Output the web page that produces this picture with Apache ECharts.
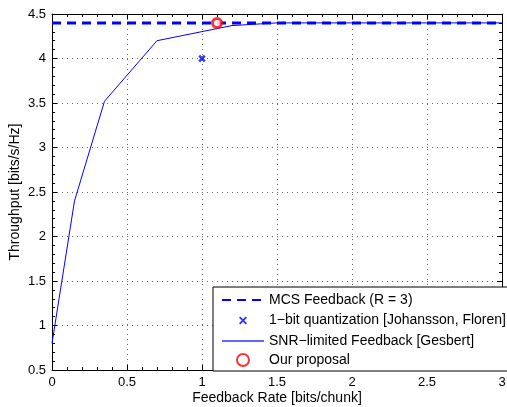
<!DOCTYPE html>
<html>
<head>
<meta charset="utf-8">
<script src="https://cdn.jsdelivr.net/npm/echarts@6/dist/echarts.min.js"></script>
<style>
  html, body { margin: 0; padding: 0; background: #fff; }
  #chart { width: 507px; height: 407px; }
</style>
</head>
<body>
<div id="chart"></div>
<script>
  // data
  const mcsLevel = [[0, 4.4], [3, 4.4]]
  const oneBitPoint = [[1, 4.0]]
  const snrRate = [0, 0.15, 0.35, 0.7, 1.2, 1.5, 2, 2.5, 3]
  const snrThroughput = [0.8, 2.4, 3.52, 4.2, 4.37, 4.4, 4.4, 4.4, 4.4]
  const proposalPoint = [[1.1, 4.4]]
  const seriesNames = [
    'MCS Feedback (R = 3)',
    '1\u2212bit quantization [Johansson, Floren]',
    'SNR\u2212limited Feedback [Gesbert]',
    'Our proposal'
  ]

  const font = 'Liberation Sans, Arial, sans-serif'
  // cross with empty margin so the legend icon stays small
  const crossPath = 'path://M-4,-4 L-4,-4 M0,0 L10,10 M10,0 L0,10 M14,14 L14,14'

  const chart = echarts.init(document.getElementById('chart'))

  const axisCommon = {
    type: 'value',
    axisLine: { show: true, onZero: false, lineStyle: { color: '#000', width: 1 } },
    axisTick: { show: true, inside: true, length: 5, lineStyle: { color: '#000' } },
    minorTick: { show: true, splitNumber: 5, length: 3, lineStyle: { color: '#000' } },
    axisLabel: { color: '#000', fontFamily: font, fontSize: 13, margin: 6 },
    splitLine: { show: true, lineStyle: { color: '#666', type: [1, 4], width: 1 } },
    nameTextStyle: { color: '#000', fontFamily: font, fontSize: 14 },
    nameMoveOverlap: false
  }
  const mirror = {
    axisLabel: { show: false },
    splitLine: { show: false },
    name: ''
  }

  const xMain = Object.assign({}, axisCommon, {
    min: 0, max: 3, interval: 0.5, position: 'bottom',
    name: 'Feedback Rate [bits/chunk]', nameLocation: 'middle', nameGap: 21
  })
  const yMain = Object.assign({}, axisCommon, {
    min: 0.5, max: 4.5, interval: 0.5, position: 'left',
    name: 'Throughput [bits/s/Hz]', nameLocation: 'middle', nameGap: 30
  })

  chart.setOption({
    animation: false,
    grid: { left: 52, right: 5, top: 14, bottom: 37, outerBoundsMode: 'none', containLabel: false },
    xAxis: [xMain, Object.assign({}, xMain, mirror, { position: 'top' })],
    yAxis: [yMain, Object.assign({}, yMain, mirror, { position: 'right' })],
    legend: {
      orient: 'vertical',
      left: 213, top: 287,
      backgroundColor: '#fff',
      borderColor: '#000', borderWidth: 1,
      padding: [6, 2, 4, 8],
      itemGap: 5,
      itemWidth: 42, itemHeight: 12,
      textStyle: { color: '#000', fontFamily: font, fontSize: 14 },
      data: [
        { name: seriesNames[0], itemStyle: { opacity: 0 } },
        { name: seriesNames[1] },
        { name: seriesNames[2], itemStyle: { opacity: 0 }, lineStyle: { opacity: 0.6, width: 2 } },
        { name: seriesNames[3] }
      ]
    },
    series: [
      {
        name: seriesNames[0],
        type: 'line',
        data: mcsLevel,
        symbol: 'none',
        lineStyle: { color: '#0000ff', width: 3, type: [9, 6] },
        itemStyle: { color: '#0000ff' },
        z: 3
      },
      {
        name: seriesNames[1],
        type: 'scatter',
        data: oneBitPoint,
        symbol: crossPath,
        symbolSize: 10,
        itemStyle: { color: 'none', borderColor: '#0000ff', borderWidth: 2.5 },
        z: 4
      },
      {
        name: seriesNames[2],
        type: 'line',
        data: snrRate.map((x, i) => [x, snrThroughput[i]]),
        symbol: 'none',
        lineStyle: { color: '#0000ff', width: 1 },
        itemStyle: { color: '#0000ff' },
        z: 2
      },
      {
        name: seriesNames[3],
        type: 'scatter',
        data: proposalPoint,
        symbol: 'circle',
        symbolSize: 9,
        itemStyle: { color: '#fff', borderColor: '#ff0000', borderWidth: 3 },
        z: 5
      }
    ]
  })
</script>
</body>
</html>
